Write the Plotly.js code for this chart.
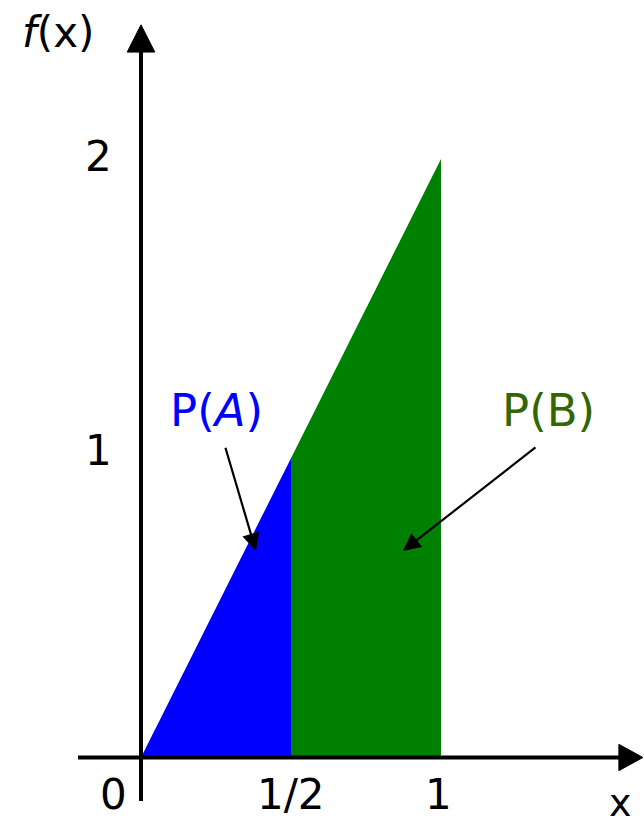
<!DOCTYPE html>
<html>
<head>
<meta charset="utf-8">
<script src="https://cdn.plot.ly/plotly-3.0.1.min.js"></script>
<style>html,body{margin:0;padding:0;background:#fff;}#chart{width:644px;height:826px;}</style>
</head>
<body>
<div id="chart"></div>
<script>
// Density f(x) = 2x on [0,1], split at x = 1/2
const regionA_x = [0, 0.5, 0.5];
const regionA_y = [0, 1, 0];
const regionB_x = [0.5, 0.5, 1, 1];
const regionB_y = [0, 1, 2, 0];
const xTickVals = [0, 0.5, 1];
const xTickText = ['0', '1/2', '1'];
const yTickVals = [1, 2];
const yTickText = ['1', '2'];
const labelA = 'P(<i>A</i>)';
const labelB = 'P(B)';

const FONT = 'DejaVu Sans, sans-serif';

const traces = [
  {x: regionA_x, y: regionA_y, type: 'scatter', mode: 'lines', fill: 'toself',
   fillcolor: '#0000FF', line: {width: 0, color: '#0000FF'}, hoverinfo: 'skip'},
  {x: regionB_x, y: regionB_y, type: 'scatter', mode: 'lines', fill: 'toself',
   fillcolor: '#008000', line: {width: 0, color: '#008000'}, hoverinfo: 'skip'}
];

const annotations = [];
xTickVals.forEach((v, i) => {
  annotations.push({x: v, y: 0, xref: 'x', yref: 'y', text: xTickText[i], showarrow: false,
    xshift: i === 0 ? -28 : (i === 2 ? -2 : 0), yshift: -37,
    font: {family: FONT, size: 42, color: '#000'}});
});
yTickVals.forEach((v, i) => {
  annotations.push({x: 0, y: v, xref: 'x', yref: 'y', text: yTickText[i], showarrow: false,
    xshift: -43, yshift: i === 0 ? 8 : 2,
    font: {family: FONT, size: 42, color: '#000'}});
});
// axis names
annotations.push({x: 0, y: 2.45, xref: 'x', yref: 'y', text: '<i>f</i>(x)', showarrow: false,
  xshift: -83, yshift: -8, font: {family: FONT, size: 42, color: '#000'}});
annotations.push({x: 1.6, y: 0, xref: 'x', yref: 'y', text: 'x', showarrow: false,
  xshift: 0, yshift: -46, font: {family: FONT, size: 38, color: '#000'}});
// region labels
annotations.push({x: 0.253, y: 1.16, xref: 'x', yref: 'y', text: labelA, showarrow: false,
  font: {family: FONT, size: 45, color: '#0000FF'}});
annotations.push({x: 1.357, y: 1.16, xref: 'x', yref: 'y', text: labelB, showarrow: false,
  font: {family: FONT, size: 45, color: '#336600'}});
// pointer arrows
annotations.push({x: 0.383, y: 0.69, ax: 0.28, ay: 1.04, xref: 'x', yref: 'y', axref: 'x', ayref: 'y',
  text: '', showarrow: true, arrowhead: 2, arrowsize: 1.6, arrowwidth: 2.2, arrowcolor: '#000'});
annotations.push({x: 0.873, y: 0.69, ax: 1.32, ay: 1.04, xref: 'x', yref: 'y', axref: 'x', ayref: 'y',
  text: '', showarrow: true, arrowhead: 2, arrowsize: 1.6, arrowwidth: 2.2, arrowcolor: '#000'});

const shapes = [
  // x axis line
  {type: 'line', xref: 'x', yref: 'y', x0: -0.21, y0: 0, x1: 1.6, y1: 0, line: {color: '#000', width: 4}},
  // x axis arrowhead
  {type: 'path', xref: 'x', yref: 'y', path: 'M 1.593 0.044 L 1.673 0 L 1.593 -0.044 Z',
   fillcolor: '#000', line: {color: '#000', width: 1}},
  // y axis line
  {type: 'line', xref: 'x', yref: 'y', x0: 0, y0: -0.145, x1: 0, y1: 2.36, line: {color: '#000', width: 4}},
  // y axis arrowhead
  {type: 'path', xref: 'x', yref: 'y', path: 'M -0.046 2.357 L 0 2.448 L 0.046 2.357 Z',
   fillcolor: '#000', line: {color: '#000', width: 1}}
];

const layout = {
  width: 644, height: 826,
  margin: {l: 0, r: 0, t: 0, b: 0},
  paper_bgcolor: '#fff', plot_bgcolor: '#fff',
  showlegend: false,
  xaxis: {range: [-0.47, 1.6767], visible: false, fixedrange: true},
  yaxis: {range: [-0.2289, 2.531], visible: false, fixedrange: true},
  annotations: annotations,
  shapes: shapes
};

Plotly.newPlot('chart', traces, layout, {staticPlot: true, displayModeBar: false});
</script>
</body>
</html>
